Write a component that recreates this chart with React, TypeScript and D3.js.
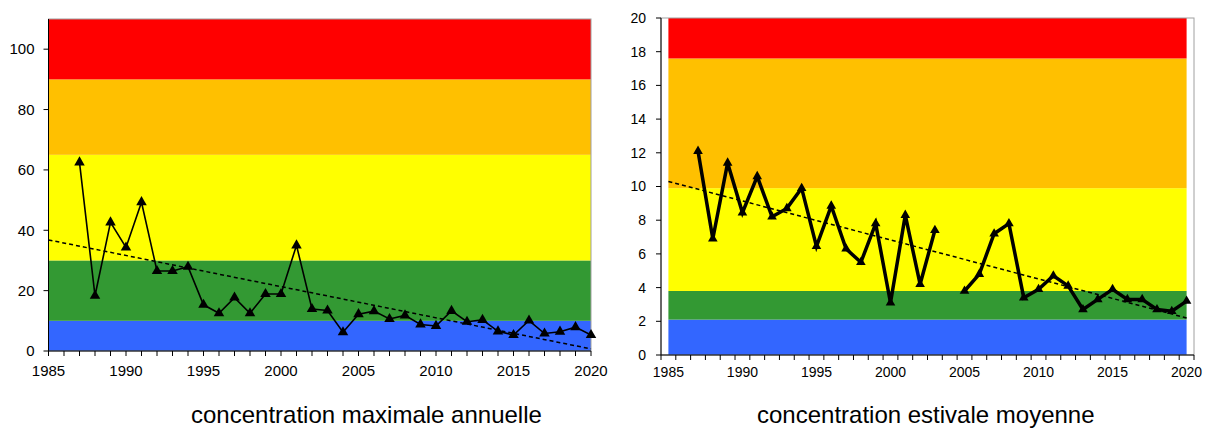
import * as d3 from "d3";

const YEARS: number[] = d3.range(1987, 2021);

const MAX_ANNUAL: Array<number | null> = [
  62.5, 18.3, 42.6, 34.3, 49.3, 26.5, 26.5, 27.9, 15.3, 12.5, 17.7, 12.5, 18.9, 18.9, 35.0, 13.9, 13.4,
  6.2, 12.2, 13.2, 10.6, 11.8, 8.8, 8.3, 13.3, 9.7, 10.3, 6.5, 5.3, 10.1, 5.8, 6.4, 7.9, 5.3,
];

const SUMMER_MEAN: Array<number | null> = [
  12.1, 6.9, 11.4, 8.45, 10.6, 8.2, 8.7, 9.9, 6.45, 8.85, 6.3, 5.5, 7.8, 3.1, 8.3, 4.2, 7.4,
  null, 3.8, 4.8, 7.2, 7.8, 3.4, 3.9, 4.7, 4.1, 2.7, 3.3, 3.9, 3.3, 3.3, 2.7, 2.6, 3.2,
];

// trend line end points (1985, 2020)
const TREND_YEARS = [1985, 2020];
const TREND_MAX = [36.8, 0.7];
const TREND_SUMMER = [10.3, 2.2];

const BAND_COLORS = ["#3366ff", "#339933", "#ffff00", "#ffc000", "#ff0000"];
const BANDS_MAX = [0, 10, 30, 65, 90, 110];
const BANDS_SUMMER = [0, 2.1, 3.8, 9.9, 17.6, 20];

const X_TICKS = [1985, 1990, 1995, 2000, 2005, 2010, 2015, 2020];
const Y_TICKS_MAX = [0, 20, 40, 60, 80, 100];
const Y_TICKS_SUMMER = [0, 2, 4, 6, 8, 10, 12, 14, 16, 18, 20];

const FONT = "Liberation Sans, Arial, sans-serif";

type PanelProps = {
  left: number;
  right: number;
  top: number;
  bottom: number;
  xDomain: [number, number];
  bandStart: number;
  bandEnd: number;
  yMax: number;
  bands: number[];
  yTicks: number[];
  values: Array<number | null>;
  trend: number[];
  lineWidth: number;
  marker: number;
  fontSize: number;
  labelGap: number;
  xLabelDy: number;
  caption: string;
  captionX: number;
};

function Panel(p: PanelProps) {
  const x = d3.scaleLinear().domain(p.xDomain).range([p.left, p.right]);
  const y = d3.scaleLinear().domain([0, p.yMax]).range([p.bottom, p.top]);

  const line = d3
    .line<number | null>()
    .defined((d) => d !== null)
    .x((_, i) => x(YEARS[i]))
    .y((d) => y(d as number));

  const trendLine = d3
    .line<number>()
    .x((_, i) => x(TREND_YEARS[i]))
    .y((d) => y(d));

  const minorTicks = d3.range(Math.ceil(p.xDomain[0] * 2) / 2, p.xDomain[1] + 0.01, 1);
  const tri = d3.symbol().type(d3.symbolTriangle).size(p.marker)();

  return (
    <g>
      <rect x={p.left} y={p.top} width={p.right - p.left} height={p.bottom - p.top} fill="#fff" />
      {BAND_COLORS.map((c, i) => (
        <rect
          key={c}
          x={x(p.bandStart)}
          width={x(p.bandEnd) - x(p.bandStart)}
          y={y(p.bands[i + 1])}
          height={y(p.bands[i]) - y(p.bands[i + 1])}
          fill={c}
        />
      ))}
      <rect
        x={p.left}
        y={p.top}
        width={p.right - p.left}
        height={p.bottom - p.top}
        fill="none"
        stroke="#a0a0a0"
        strokeWidth={1}
      />
      <path
        d={trendLine(p.trend)!}
        fill="none"
        stroke="#000"
        strokeWidth={1.5}
        strokeDasharray="4,3"
      />
      <path
        d={line(p.values)!}
        fill="none"
        stroke="#000"
        strokeWidth={p.lineWidth}
        strokeLinejoin="miter"
      />
      {p.values.map((v, i) =>
        v === null ? null : (
          <path key={i} d={tri!} transform={`translate(${x(YEARS[i])},${y(v)})`} fill="#000" />
        )
      )}
      {/* axes */}
      <line x1={p.left} x2={p.left} y1={p.top} y2={p.bottom} stroke="#000" strokeWidth={1} />
      <line x1={p.left} x2={p.right} y1={p.bottom} y2={p.bottom} stroke="#000" strokeWidth={1} />
      {p.yTicks.map((t) => (
        <g key={t}>
          <line x1={p.left - 5} x2={p.left} y1={y(t)} y2={y(t)} stroke="#000" />
          <text
            x={p.left - p.labelGap}
            y={y(t)}
            dy="0.35em"
            textAnchor="end"
            fontSize={p.fontSize}
            fontFamily={FONT}
            fill="#000"
          >
            {t}
          </text>
        </g>
      ))}
      {minorTicks.map((t) => (
        <line key={t} x1={x(t)} x2={x(t)} y1={p.bottom} y2={p.bottom + 5} stroke="#000" />
      ))}
      {X_TICKS.map((t) => (
        <text
          key={t}
          x={x(t)}
          y={p.bottom + p.xLabelDy}
          textAnchor="middle"
          fontSize={p.fontSize}
          fontFamily={FONT}
          fill="#000"
        >
          {t}
        </text>
      ))}
      <text x={p.captionX} y={423} fontSize={24} fontFamily={FONT} fill="#000">
        {p.caption}
      </text>
    </g>
  );
}

export default function App() {
  return (
    <div style={{ position: "fixed", left: 0, top: 0 }}>
      <svg width={1205} height={428} style={{ display: "block", background: "#fff" }}>
        <Panel
          left={48.5}
          right={591}
          top={19}
          bottom={351}
          xDomain={[1985, 2020]}
          bandStart={1985}
          bandEnd={2020}
          yMax={110}
          bands={BANDS_MAX}
          yTicks={Y_TICKS_MAX}
          values={MAX_ANNUAL}
          trend={TREND_MAX}
          lineWidth={1.6}
          marker={48}
          fontSize={15}
          labelGap={14}
          xLabelDy={25}
          caption="concentration maximale annuelle"
          captionX={191}
        />
        <Panel
          left={661}
          right={1194}
          top={18}
          bottom={355}
          xDomain={[1984.5, 2020.5]}
          bandStart={1985}
          bandEnd={2020}
          yMax={20}
          bands={BANDS_SUMMER}
          yTicks={Y_TICKS_SUMMER}
          values={SUMMER_MEAN}
          trend={TREND_SUMMER}
          lineWidth={3.5}
          marker={40}
          fontSize={14}
          labelGap={15}
          xLabelDy={22}
          caption="concentration estivale moyenne"
          captionX={757}
        />
      </svg>
    </div>
  );
}
